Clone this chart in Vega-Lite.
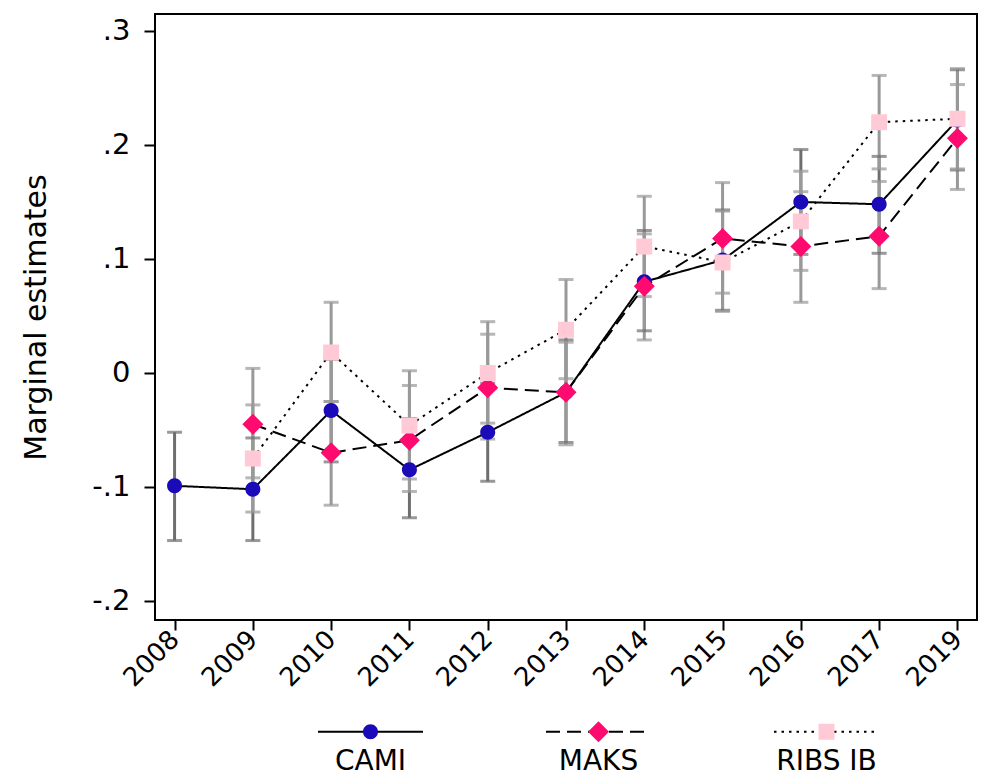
{
  "$schema": "https://vega.github.io/schema/vega-lite/v6.json",
  "width": 822,
  "height": 606,
  "autosize": {"type": "none"},
  "padding": {"left": 155, "top": 14, "right": 5, "bottom": 160},
  "background": "white",
  "config": {
    "view": {"stroke": "black", "strokeWidth": 2},
    "font": "DejaVu Sans",
    "axis": {"grid": false, "domain": false, "tickColor": "black", "tickWidth": 2, "labelColor": "black", "titleColor": "black", "labelFont": "DejaVu Sans", "titleFont": "DejaVu Sans"},
    "legend": {"labelFont": "DejaVu Sans"}
  },
  "data": {
    "values": [
      {"year": "2008", "series": "CAMI", "est": -0.099, "lo": -0.147, "hi": -0.052},
      {"year": "2009", "series": "CAMI", "est": -0.102, "lo": -0.147, "hi": -0.057},
      {"year": "2010", "series": "CAMI", "est": -0.033, "lo": -0.078, "hi": 0.012},
      {"year": "2011", "series": "CAMI", "est": -0.085, "lo": -0.127, "hi": -0.040},
      {"year": "2012", "series": "CAMI", "est": -0.052, "lo": -0.095, "hi": -0.009},
      {"year": "2013", "series": "CAMI", "est": -0.017, "lo": -0.061, "hi": 0.029},
      {"year": "2014", "series": "CAMI", "est": 0.080, "lo": 0.037, "hi": 0.125},
      {"year": "2015", "series": "CAMI", "est": 0.099, "lo": 0.055, "hi": 0.143},
      {"year": "2016", "series": "CAMI", "est": 0.150, "lo": 0.104, "hi": 0.196},
      {"year": "2017", "series": "CAMI", "est": 0.148, "lo": 0.105, "hi": 0.190},
      {"year": "2019", "series": "CAMI", "est": 0.222, "lo": 0.178, "hi": 0.266},
      {"year": "2009", "series": "MAKS", "est": -0.045, "lo": -0.092, "hi": 0.004},
      {"year": "2010", "series": "MAKS", "est": -0.070, "lo": -0.116, "hi": -0.025},
      {"year": "2011", "series": "MAKS", "est": -0.059, "lo": -0.104, "hi": -0.011},
      {"year": "2012", "series": "MAKS", "est": -0.013, "lo": -0.058, "hi": 0.034},
      {"year": "2013", "series": "MAKS", "est": -0.017, "lo": -0.063, "hi": 0.027},
      {"year": "2014", "series": "MAKS", "est": 0.076, "lo": 0.029, "hi": 0.122},
      {"year": "2015", "series": "MAKS", "est": 0.118, "lo": 0.070, "hi": 0.167},
      {"year": "2016", "series": "MAKS", "est": 0.111, "lo": 0.062, "hi": 0.159},
      {"year": "2017", "series": "MAKS", "est": 0.120, "lo": 0.074, "hi": 0.168},
      {"year": "2019", "series": "MAKS", "est": 0.206, "lo": 0.161, "hi": 0.253},
      {"year": "2009", "series": "RIBS IB", "est": -0.075, "lo": -0.122, "hi": -0.028},
      {"year": "2010", "series": "RIBS IB", "est": 0.018, "lo": -0.025, "hi": 0.062},
      {"year": "2011", "series": "RIBS IB", "est": -0.046, "lo": -0.093, "hi": 0.002},
      {"year": "2012", "series": "RIBS IB", "est": 0.000, "lo": -0.044, "hi": 0.045},
      {"year": "2013", "series": "RIBS IB", "est": 0.038, "lo": -0.005, "hi": 0.082},
      {"year": "2014", "series": "RIBS IB", "est": 0.111, "lo": 0.067, "hi": 0.155},
      {"year": "2015", "series": "RIBS IB", "est": 0.097, "lo": 0.054, "hi": 0.142},
      {"year": "2016", "series": "RIBS IB", "est": 0.133, "lo": 0.090, "hi": 0.177},
      {"year": "2017", "series": "RIBS IB", "est": 0.220, "lo": 0.179, "hi": 0.261},
      {"year": "2019", "series": "RIBS IB", "est": 0.223, "lo": 0.179, "hi": 0.267}
    ]
  },
  "encoding": {
    "x": {
      "field": "year", "type": "ordinal",
      "scale": {"type": "point", "padding": 0.25},
      "axis": {"title": null, "labelAngle": -45, "labelAlign": "right", "labelBaseline": "middle", "labelFontSize": 26, "labelPadding": 5, "tickSize": 10}
    }
  },
  "layer": [
    {
      "mark": {"type": "rule", "strokeWidth": 3},
      "encoding": {
        "y": {
          "field": "lo", "type": "quantitative",
          "scale": {"domain": [-0.2167, 0.3149], "nice": false, "zero": false},
          "axis": {
            "title": "Marginal estimates", "titleFontSize": 30, "titleFontWeight": "normal", "titlePadding": 40,
            "values": [-0.2, -0.1, 0, 0.1, 0.2, 0.3],
            "labelExpr": "datum.value > 0.05 ? '.' + round(datum.value*10) : (datum.value < -0.05 ? '-.' + round(-datum.value*10) : '0')",
            "labelFontSize": 29, "labelPadding": 14, "tickSize": 11
          }
        },
        "y2": {"field": "hi"},
        "color": {"condition": {"test": "datum.series === 'CAMI'", "value": "#6e6e6e"}, "value": "#999999"}
      }
    },
    {
      "mark": {"type": "tick", "thickness": 3, "size": 15},
      "encoding": {
        "y": {"field": "lo", "type": "quantitative"},
        "color": {"condition": {"test": "datum.series === 'CAMI'", "value": "#6e6e6e"}, "value": "#999999"}
      }
    },
    {
      "mark": {"type": "tick", "thickness": 3, "size": 15},
      "encoding": {
        "y": {"field": "hi", "type": "quantitative"},
        "color": {"condition": {"test": "datum.series === 'CAMI'", "value": "#6e6e6e"}, "value": "#999999"}
      }
    },
    {
      "mark": {"type": "line", "color": "black", "strokeWidth": 2},
      "encoding": {
        "y": {"field": "est", "type": "quantitative"},
        "strokeDash": {
          "field": "series", "type": "nominal",
          "scale": {"range": [[1, 0], [14, 7], [2.5, 5]]},
          "legend": {
            "orient": "none", "legendX": 162, "legendY": 664, "direction": "horizontal", "title": null,
            "symbolType": "stroke", "symbolSize": 11025, "symbolStrokeWidth": 2, "symbolStrokeColor": "black",
            "labelAlign": "center", "labelBaseline": "top", "labelOffset": -53.5, "labelFontSize": 28, "labelColor": "black",
            "columnPadding": 115, "padding": 0, "zindex": 1,
            "encoding": {"labels": {"dy": {"value": 16}}}
          }
        }
      }
    },
    {
      "mark": {"type": "point", "filled": true, "opacity": 1, "size": 11025},
      "encoding": {
        "y": {"field": "est", "type": "quantitative"},
        "color": {
          "field": "series", "type": "nominal",
          "scale": {"domain": ["CAMI", "MAKS", "RIBS IB"], "range": ["#1a0ab8", "#ff0a6e", "#ffc9d6"]},
          "legend": {
            "orient": "none", "legendX": 162, "legendY": 664, "direction": "horizontal", "title": null,
            "symbolSize": 11025, "symbolStrokeWidth": 2, "symbolStrokeColor": "transparent", "symbolOpacity": 1,
            "labelAlign": "center", "labelBaseline": "top", "labelOffset": -53.5, "labelFontSize": 28, "labelColor": "transparent",
            "columnPadding": 115, "padding": 0, "zindex": 2,
            "encoding": {"labels": {"dy": {"value": 16}}}
          }
        },
        "shape": {
          "field": "series", "type": "nominal",
          "scale": {
            "domain": ["CAMI", "MAKS", "RIBS IB"],
            "range": [
              "M-1,0H1M0.143,0A0.143,0.143,0,1,1,-0.143,0A0.143,0.143,0,1,1,0.143,0Z",
              "M-1,0H1M0,-0.2L0.2,0L0,0.2L-0.2,0Z",
              "M-1,0H1M-0.152,-0.152H0.152V0.152H-0.152Z"
            ]
          },
          "legend": {
            "orient": "none", "legendX": 162, "legendY": 664, "direction": "horizontal", "title": null,
            "symbolSize": 11025, "symbolStrokeWidth": 2, "symbolStrokeColor": "transparent", "symbolOpacity": 1,
            "labelAlign": "center", "labelBaseline": "top", "labelOffset": -53.5, "labelFontSize": 28, "labelColor": "transparent",
            "columnPadding": 115, "padding": 0, "zindex": 2,
            "encoding": {"labels": {"dy": {"value": 16}}}
          }
        }
      }
    }
  ]
}
